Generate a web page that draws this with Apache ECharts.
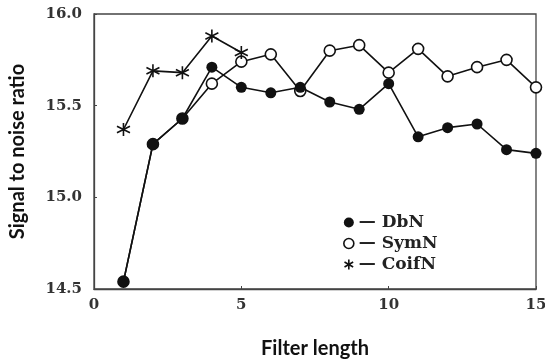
<!DOCTYPE html>
<html>
<head>
<meta charset="utf-8">
<script src="https://cdn.jsdelivr.net/npm/echarts@6/dist/echarts.min.js"></script>
<style>
  html, body { margin: 0; padding: 0; background: #fff; }
  #chart { width: 545px; height: 363px; }
</style>
</head>
<body>
<div id="chart"></div>
<script>
// Filter length (x) and signal-to-noise ratio for each wavelet family
const filterLength = [1, 2, 3, 4, 5, 6, 7, 8, 9, 10, 11, 12, 13, 14, 15];
const dbN   = [14.54, 15.29, 15.43, 15.71, 15.60, 15.57, 15.60, 15.52, 15.48, 15.62, 15.33, 15.38, 15.40, 15.26, 15.24];
const symN  = [14.54, 15.29, 15.43, 15.62, 15.74, 15.78, 15.58, 15.80, 15.83, 15.68, 15.81, 15.66, 15.71, 15.75, 15.60];
const coifLength = [1, 2, 3, 4, 5];
const coifN = [15.37, 15.69, 15.68, 15.88, 15.79];

const xTicks = [0, 5, 10, 15];
const yTicks = [14.5, 15.0, 15.5, 16.0];

const pairs = (xs, ys) => xs.map((x, i) => [x, ys[i]]);

const asterisk = 'path://M0,-10L0,10M-8.66,-5L8.66,5M-8.66,5L8.66,-5';
const serif = '"DejaVu Serif", "Liberation Serif", serif';
const sans = 'Lato, "Open Sans", "Liberation Sans", sans-serif';

const chart = echarts.init(document.getElementById('chart'));
chart.setOption({
  animation: false,
  grid: {
    left: 94, right: 9, top: 14, bottom: 74,
    outerBoundsMode: 'none', containLabel: false,
    show: true, borderColor: '#444', borderWidth: 1.3, backgroundColor: 'transparent'
  },
  xAxis: {
    type: 'value', min: xTicks[0], max: xTicks[xTicks.length - 1], interval: 5,
    name: 'Filter length', nameLocation: 'middle', nameGap: 50,
    nameTextStyle: { fontFamily: sans, fontWeight: 'bold', fontSize: 20, color: '#111' },
    axisLine: { lineStyle: { color: '#444', width: 1.3 } },
    axisTick: { inside: true, length: 3, lineStyle: { color: '#444' } },
    axisLabel: { fontFamily: serif, fontWeight: 'bold', fontSize: 15, color: '#333', margin: 9 },
    splitLine: { show: false }
  },
  yAxis: {
    type: 'value', min: yTicks[0], max: yTicks[yTicks.length - 1], interval: 0.5,
    name: 'Signal to noise ratio', nameLocation: 'middle', nameGap: 66, nameRotate: 90,
    nameTextStyle: { fontFamily: sans, fontWeight: 'bold', fontSize: 20, color: '#111' },
    axisLine: { lineStyle: { color: '#444', width: 1.3 } },
    axisTick: { inside: true, length: 3, lineStyle: { color: '#444' } },
    axisLabel: { fontFamily: serif, fontWeight: 'bold', fontSize: 15, color: '#333', margin: 12,
      formatter: v => v.toFixed(1) },
    splitLine: { show: false }
  },
  legend: {
    orient: 'vertical', left: 337, top: 209, itemGap: 4, itemWidth: 10, itemHeight: 10,
    formatter: name => '\u2014 ' + name,
    textStyle: { fontFamily: serif, fontWeight: 'bold', fontSize: 17, color: '#222' },
    data: [
      { name: 'DbN', icon: 'circle', itemStyle: { color: '#111', borderWidth: 0 } },
      { name: 'SymN', icon: 'circle', itemStyle: { color: '#fff', borderColor: '#111', borderWidth: 1.6 } },
      { name: 'CoifN', icon: asterisk, itemStyle: { color: 'none', borderColor: '#111', borderWidth: 1.6 } }
    ]
  },
  series: [
    {
      name: 'SymN', type: 'line', data: pairs(filterLength, symN), z: 2,
      symbol: 'circle', symbolSize: 11,
      lineStyle: { color: '#111', width: 1.6 },
      itemStyle: { color: '#fff', borderColor: '#111', borderWidth: 1.6 }
    },
    {
      name: 'DbN', type: 'line', data: pairs(filterLength, dbN), z: 3,
      symbol: 'circle', symbolSize: 11,
      lineStyle: { color: '#111', width: 1.6 },
      itemStyle: { color: '#111', borderColor: '#111', borderWidth: 0 }
    },
    {
      name: 'CoifN', type: 'line', data: pairs(coifLength, coifN), z: 4,
      symbol: asterisk, symbolSize: 13,
      lineStyle: { color: '#111', width: 1.6 },
      itemStyle: { color: 'none', borderColor: '#111', borderWidth: 1.6 }
    }
  ]
});
</script>
</body>
</html>
